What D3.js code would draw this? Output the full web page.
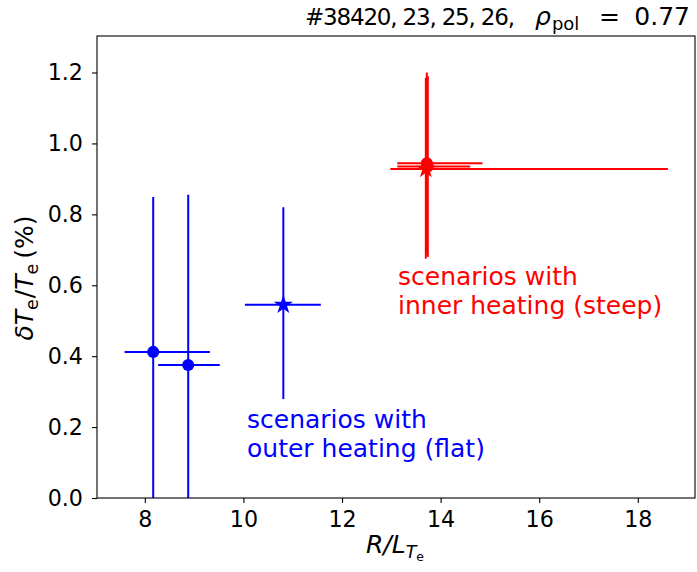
<!DOCTYPE html>
<html><head><meta charset="utf-8">
<script src="https://cdn.jsdelivr.net/npm/d3@7"></script>
<style>body{margin:0;background:#fff}svg{display:block}text{font-family:"DejaVu Sans",sans-serif}</style>
</head><body>
<script>
// Data
const blueX = [8.17, 8.88, 10.81];
const blueY = [0.412, 0.375, 0.545];
const blueXlo = [7.59, 8.27, 10.03];
const blueXhi = [9.32, 9.52, 11.57];
const blueYlo = [-0.03, -0.1, 0.279];
const blueYhi = [0.849, 0.855, 0.82];
const blueMarker = ["circle", "circle", "star"];

const redX = [13.72, 13.74, 13.70];
const redY = [0.944, 0.935, 0.928];
const redXlo = [13.12, 13.12, 12.98];
const redXhi = [14.85, 14.60, 18.61];
const redYlo = [0.69, 0.68, 0.675];
const redYhi = [1.20, 1.19, 1.185];
const redMarker = ["circle", "circle", "star"];

const xTicks = [8, 10, 12, 14, 16, 18];
const yTicks = [0.0, 0.2, 0.4, 0.6, 0.8, 1.0, 1.2];

const W = 697, H = 572;
const m = {left: 97, right: 2, top: 36, bottom: 74};
const x = d3.scaleLinear().domain([7.03, 19.16]).range([m.left, W - m.right]);
const y = d3.scaleLinear().domain([0, 1.303]).range([H - m.bottom, m.top]);

const svg = d3.select("body").append("svg").attr("width", W).attr("height", H);
svg.append("defs").append("clipPath").attr("id", "c")
  .append("rect").attr("x", m.left).attr("y", m.top)
  .attr("width", W - m.right - m.left).attr("height", H - m.bottom - m.top);

const g = svg.append("g").attr("clip-path", "url(#c)");

function drawSeries(X, Y, Xlo, Xhi, Ylo, Yhi, M, col) {
  X.forEach((xv, i) => {
    g.append("line").attr("x1", x(Xlo[i])).attr("x2", x(Xhi[i]))
      .attr("y1", y(Y[i])).attr("y2", y(Y[i])).attr("stroke", col).attr("stroke-width", 2);
    g.append("line").attr("x1", x(xv)).attr("x2", x(xv))
      .attr("y1", y(Ylo[i])).attr("y2", y(Yhi[i])).attr("stroke", col).attr("stroke-width", 2);
  });
  X.forEach((xv, i) => {
    const sym = M[i] === "star" ? d3.symbolStar : d3.symbolCircle;
    g.append("path").attr("d", d3.symbol().type(sym).size(115)())
      .attr("transform", `translate(${x(xv)},${y(Y[i])})`).attr("fill", col);
  });
}
drawSeries(blueX, blueY, blueXlo, blueXhi, blueYlo, blueYhi, blueMarker, "#0000ff");
drawSeries(redX, redY, redXlo, redXhi, redYlo, redYhi, redMarker, "#ff0000");

// Axes
const xAxis = d3.axisBottom(x).tickValues(xTicks).tickSize(5).tickPadding(8).tickFormat(d3.format("d"));
const yAxis = d3.axisLeft(y).tickValues(yTicks).tickSize(5).tickPadding(9).tickFormat(d3.format(".1f"));
const gx = svg.append("g").attr("transform", `translate(0,${H - m.bottom})`).call(xAxis);
const gy = svg.append("g").attr("transform", `translate(${m.left},0)`).call(yAxis);
[gx, gy].forEach(a => {
  a.select(".domain").remove();
  a.selectAll("line").attr("stroke", "#000").attr("stroke-width", 1.1);
  a.selectAll("text").attr("font-size", 22.2).attr("fill", "#000").attr("font-family", "DejaVu Sans");
});
svg.append("rect").attr("x", m.left).attr("y", m.top)
  .attr("width", W - m.right - m.left).attr("height", H - m.bottom - m.top)
  .attr("fill", "none").attr("stroke", "#000").attr("stroke-width", 1.1);

// Annotations
function twoLines(xp, y1, lines, col) {
  lines.forEach((t, i) => svg.append("text").attr("x", xp).attr("y", y1 + i * 29)
    .attr("font-size", 25).attr("fill", col).text(t));
}
twoLines(247, 428, ["scenarios with", "outer heating (flat)"], "#0000ff");
twoLines(398, 285, ["scenarios with", "inner heating (steep)"], "#ff0000");

// Title (mathtext-like spacing)
svg.append("text").attr("x", 305).attr("y", 25).attr("font-size", 23)
  .attr("textLength", 210).attr("lengthAdjust", "spacing").text("#38420, 23, 25, 26,");
const rho = svg.append("text").attr("x", 535).attr("y", 25).attr("font-size", 25);
rho.append("tspan").attr("font-style", "italic").text("ρ");
rho.append("tspan").attr("font-size", 18).attr("dy", 5).attr("dx", 1).text("pol");
svg.append("text").attr("x", 599).attr("y", 25).attr("font-size", 25).text("=");
svg.append("text").attr("x", 690).attr("y", 25).attr("font-size", 25).attr("text-anchor", "end").text("0.77");

// Y label
const yl = svg.append("text").attr("transform", "translate(33,278) rotate(-90)")
  .attr("text-anchor", "middle").attr("font-size", 25);
yl.append("tspan").attr("font-style", "italic").text("δT");
yl.append("tspan").attr("font-size", 17.5).attr("dy", 5).text("e");
yl.append("tspan").attr("dy", -5).attr("dx", 1).text("/");
yl.append("tspan").attr("font-style", "italic").text("T");
yl.append("tspan").attr("font-size", 17.5).attr("dy", 5).text("e");
yl.append("tspan").attr("dy", -5).attr("dx", 5).text("(%)");

// X label
const xl = svg.append("text").attr("x", 395).attr("y", 553).attr("text-anchor", "middle").attr("font-size", 25);
xl.append("tspan").attr("font-style", "italic").text("R/L");
xl.append("tspan").attr("font-style", "italic").attr("font-size", 17.5).attr("dy", 5).text("T");
xl.append("tspan").attr("font-size", 12.5).attr("dy", 3).text("e");
</script>
</body></html>
